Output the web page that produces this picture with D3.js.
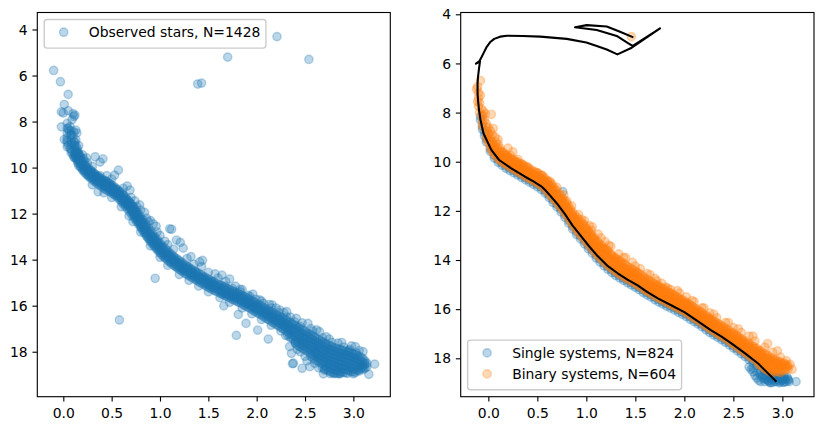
<!DOCTYPE html>
<html lang="en">
<head>
<meta charset="UTF-8">
<title>Observed stars vs single / binary systems</title>
<script src="https://d3js.org/d3.v7.min.js"></script>
<style>
  body { margin: 0; background: #fff; }
  svg text { font-family: "DejaVu Sans", sans-serif; font-size: 13.9px; fill: #000; }
</style>
</head>
<body>
<svg id="chart" width="822" height="431"></svg>
<script>
// tick values shared by both panels
const xTicks = [0, 0.5, 1, 1.5, 2, 2.5, 3];
const yTicks = [4, 6, 8, 10, 12, 14, 16, 18];

const legendLeft = ["Observed stars, N=1428"];
const legendRight = ["Single systems, N=824", "Binary systems, N=604"];

// left panel: observed stars [colour, magnitude]
const observedStars = [
  [-0.10,5.78],[-0.03,6.27],[0.05,6.82],[1.39,6.37],[1.43,6.33],[1.70,5.20],[2.21,4.31],[2.54,5.30],
  [0.01,7.26],[-0.02,7.58],[0.00,7.63],[0.05,7.53],[0.10,7.66],[0.11,7.78],[0.09,7.92],[0.12,7.72],
  [-0.02,8.23],[0.04,8.08],[0.05,8.30],[0.07,8.22],[0.11,8.45],[0.13,8.37],[0.08,8.55],[0.10,8.62],[0.06,8.40],[0.14,8.50],
  [0.01,8.78],[0.04,8.82],[0.11,8.88],[0.13,8.80],[0.05,9.02],[0.07,9.17],[0.09,8.95],[0.12,9.02],[0.14,9.12],[0.16,9.05],
  [0.09,9.30],[0.12,9.36],[0.15,9.26],[0.10,9.45],[0.13,9.52],[0.16,9.40],[0.18,9.55],[0.14,9.62],[0.17,9.70],[0.12,9.58],
  [0.20,9.45],[0.15,9.80],[0.19,9.85],[0.22,9.72],[0.24,9.58],[0.13,9.42],[0.17,9.48],[0.14,9.33],[0.11,9.55],[0.16,9.62],[0.21,9.62],
  [0.33,9.53],[0.38,9.76],[0.41,9.62],[0.57,10.11],[0.53,10.33],[0.36,11.05],[0.66,10.80],[0.69,10.98],
  [0.18,9.95],[0.20,10.10],[0.21,9.90],[0.22,10.15],[0.24,10.00],[0.25,10.30],[0.26,10.12],[0.27,10.22],[0.28,10.40],[0.29,10.18],
  [0.30,10.30],[0.31,10.45],[0.32,10.25],[0.33,10.38],[0.34,10.55],[0.35,10.40],[0.36,10.62],[0.37,10.48],[0.38,10.35],[0.39,10.58],
  [0.40,10.70],[0.41,10.55],[0.42,10.80],[0.43,10.65],[0.44,10.75],[0.45,10.60],[0.46,10.88],[0.47,10.78],[0.48,10.70],[0.49,10.95],
  [0.50,10.85],[0.51,11.05],[0.52,10.90],[0.53,11.00],[0.54,11.15],[0.55,10.95],[0.56,11.10],[0.57,11.25],[0.58,11.05],[0.59,11.20],
  [0.60,11.30],[0.61,11.45],[0.62,11.20],[0.63,11.40],[0.64,11.55],[0.65,11.35],[0.66,11.60],[0.67,11.45],[0.68,11.70],[0.69,11.55],
  [0.70,11.80],[0.70,11.62],[0.71,11.90],[0.72,11.70],[0.73,12.00],[0.73,11.80],[0.74,12.10],[0.75,11.90],[0.75,12.20],[0.76,12.00],
  [0.77,12.30],[0.77,12.10],[0.78,12.40],[0.79,12.20],[0.80,12.50],[0.80,12.28],[0.81,12.60],[0.82,12.35],[0.83,12.70],[0.83,12.50],
  [0.84,12.80],[0.85,12.60],[0.86,12.90],[0.86,12.70],[0.87,13.00],[0.88,12.80],[0.89,13.10],[0.90,12.90],[0.91,13.20],[0.92,13.00],
  [0.93,13.30],[0.94,13.10],[0.95,13.40],[0.96,13.20],[0.97,13.50],[0.98,13.30],[0.99,13.60],[1.00,13.42],[1.01,13.70],[1.02,13.55],
  [0.79,11.62],[0.84,11.95],[0.93,12.45],[0.96,12.55],[1.10,12.66],[1.12,12.68],[0.90,12.30],[0.76,11.70],
  [1.05,13.90],[1.07,13.80],[1.09,13.75],[1.11,14.10],[1.13,14.00],[1.15,13.95],[1.17,14.30],[1.19,14.20],[1.21,14.15],[1.24,14.45],
  [1.26,14.38],[1.29,14.35],[1.32,14.65],[1.34,14.58],[1.37,14.55],[1.40,14.85],[1.42,14.78],[1.45,14.80],[1.48,15.05],[1.50,14.98],
  [1.53,14.95],[1.56,15.22],[1.58,15.15],
  [1.17,13.15],[1.21,13.25],[1.24,13.50],[1.32,13.87],[1.41,14.10],[1.44,14.03],[1.43,14.30],[1.57,14.62],[1.64,14.67],[1.72,14.84],
  [1.62,15.35],[1.65,15.45],[1.69,15.50],[1.73,15.55],[1.77,15.62],[1.81,15.70],[1.85,15.78],[1.89,15.85],[1.93,15.95],[1.97,16.05],
  [2.01,16.15],[2.05,16.22],[2.09,16.32],[2.13,16.42],[2.17,16.52],[2.21,16.62],[2.25,16.72],[2.29,16.85],[2.33,16.95],[2.37,17.05],
  [1.67,15.15],[1.75,15.25],[1.83,15.40],[1.91,15.55],[1.99,15.72],[2.07,15.90],[2.15,16.10],[2.23,16.30],[2.31,16.50],[2.39,16.70],
  [1.66,16.01],[1.81,16.38],[1.89,16.77],[1.79,17.29],[2.01,17.06],[2.12,17.45],[1.83,15.29],[1.93,15.60],[2.03,15.75],[2.16,15.97],
  [2.24,16.19],[2.31,16.26],[2.41,16.55],[2.53,16.77],[2.65,17.13],[2.72,17.35],[2.84,17.63],[3.02,17.78],[3.10,18.00],
  [2.45,16.90],[2.58,17.10],[2.68,17.40],[2.78,17.60],[2.90,17.80],[2.96,17.90],[2.95,17.95],[3.03,18.05],
  [2.34,17.78],[2.36,18.07],[2.38,18.50],[2.47,18.72],[2.55,18.65],[2.69,18.96],[2.86,18.94],[3.00,18.96],[3.16,18.98],[3.22,18.54],
  [3.09,18.58],[2.40,17.60],[2.42,17.90],[2.45,18.00],[2.50,18.20],[2.52,18.40],[2.60,18.50],[2.64,18.70],[2.70,18.80],[2.76,18.95],
  [2.80,18.95],[0.95,14.81],[0.58,16.62],[2.37,18.52],[3.12,18.50],[3.10,18.70],[3.05,18.80]
];
// loose stars on both sides of the band
const observedFringe = [
  [0.25,9.80],[0.30,9.95],[0.45,10.35],[0.50,10.50],[0.62,10.90],[0.70,11.30],[0.74,11.45],[0.80,11.85],[0.86,12.20],[0.88,12.35],
  [0.97,12.80],[1.00,12.95],[1.05,13.20],[1.08,13.35],[1.14,13.55],[1.28,13.95],[1.35,14.20],[1.50,14.55],[1.60,14.80],[1.68,14.95],
  [1.78,15.15],[1.85,15.30],[1.96,15.50],[2.05,15.80],[2.13,15.95],[2.20,16.10],[2.28,16.30],[2.35,16.50],[2.47,16.75],[2.56,17.00],
  [2.62,17.05],[2.75,17.45],[2.88,17.60],[2.98,17.75],[3.06,17.95],
  [0.30,10.75],[0.42,11.10],[0.50,11.30],[0.60,11.70],[0.68,12.10],[0.72,12.35],[0.80,12.80],[0.90,13.40],[1.00,13.90],[1.08,14.25],
  [1.20,14.65],[1.30,14.90],[1.40,15.15],[1.50,15.40],[1.62,15.65],[1.72,15.85],[1.85,16.10],[1.95,16.35],[2.05,16.60],[2.15,16.85],
  [2.25,17.10],[2.30,17.30]
];

// the dense part of the observed main sequence, column by column: [colour, [magnitudes]]
const observedColumns = [
  [0.14,[9.30,9.42,9.55,9.68]],[0.18,[9.62,9.74,9.86,9.98]],[0.22,[9.88,10.00,10.10,10.22]],[0.26,[10.04,10.15,10.27,10.38]],
  [0.30,[10.18,10.30,10.40,10.52]],[0.34,[10.33,10.45,10.56,10.66]],[0.38,[10.44,10.55,10.66,10.78]],[0.42,[10.55,10.67,10.78,10.90]],
  [0.46,[10.66,10.77,10.88,11.00]],[0.50,[10.75,10.87,10.98,11.10]],[0.54,[10.88,11.00,11.10,11.22]],[0.58,[11.02,11.14,11.26,11.38]],
  [0.62,[11.18,11.32,11.44,11.58]],[0.66,[11.38,11.52,11.64,11.78]],[0.70,[11.56,11.70,11.84,12.00]],[0.74,[11.80,11.94,12.08,12.24]],
  [0.78,[12.02,12.18,12.32,12.48]],[0.82,[12.26,12.42,12.56,12.72]],[0.86,[12.52,12.68,12.82,12.98]],[0.90,[12.75,12.90,13.05,13.20]],
  [0.94,[12.98,13.12,13.26,13.42]],[0.98,[13.18,13.32,13.46,13.62]],[1.02,[13.38,13.50,13.64,13.80]],[1.06,[13.55,13.68,13.82,13.95]],
  [1.10,[13.70,13.84,13.96,14.10]],[1.14,[13.86,13.98,14.10,14.24]],[1.18,[13.98,14.12,14.24,14.36]],[1.22,[14.10,14.24,14.36,14.48]],
  [1.26,[14.24,14.36,14.48,14.60]],[1.30,[14.34,14.46,14.58,14.70]],[1.34,[14.45,14.57,14.68,14.80]],[1.38,[14.55,14.67,14.78,14.90]],
  [1.42,[14.65,14.77,14.88,15.00]],[1.46,[14.75,14.87,14.98,15.10]],[1.50,[14.85,14.97,15.08,15.20]],[1.54,[14.94,15.06,15.17,15.29]],
  [1.58,[15.02,15.14,15.25,15.37]],[1.62,[15.10,15.22,15.33,15.45]],[1.66,[15.18,15.30,15.42,15.54]],[1.70,[15.26,15.38,15.50,15.62]],
  [1.74,[15.34,15.46,15.58,15.70]],[1.78,[15.42,15.54,15.66,15.78]],[1.82,[15.50,15.62,15.74,15.86]],[1.86,[15.58,15.70,15.83,15.95]],
  [1.90,[15.66,15.79,15.91,16.04]],[1.94,[15.76,15.89,16.01,16.14]],[1.98,[15.86,15.99,16.11,16.24]],[2.02,[15.96,16.09,16.21,16.34]],
  [2.06,[16.05,16.18,16.31,16.44]],[2.10,[16.15,16.28,16.41,16.55]],[2.14,[16.25,16.38,16.51,16.65]],[2.18,[16.34,16.48,16.62,16.76]],
  [2.22,[16.44,16.58,16.72,16.86]],[2.26,[16.52,16.67,16.82,16.97]],[2.30,[16.62,16.78,16.93,17.08]],[2.34,[16.72,16.88,17.04,17.20,17.36]],
  [2.38,[16.82,16.98,17.14,17.30,17.46]],[2.42,[16.92,17.08,17.24,17.40,17.56,17.72]],[2.46,[17.02,17.18,17.34,17.50,17.66,17.82]],
  [2.50,[17.12,17.28,17.44,17.60,17.76,17.92]],[2.54,[17.22,17.38,17.54,17.70,17.86,18.02]],[2.58,[17.32,17.48,17.64,17.80,17.96,18.12,18.28]],
  [2.62,[17.42,17.58,17.74,17.90,18.06,18.22,18.38]],[2.66,[17.52,17.68,17.84,18.00,18.16,18.32,18.48]],
  [2.70,[17.62,17.78,17.94,18.10,18.26,18.42,18.58,18.74]],[2.74,[17.70,17.86,18.02,18.18,18.34,18.50,18.66,18.82]],
  [2.78,[17.78,17.94,18.10,18.26,18.42,18.58,18.74,18.90]],[2.82,[17.85,18.00,18.16,18.32,18.48,18.64,18.80,18.94]],
  [2.86,[17.90,18.06,18.22,18.38,18.54,18.70,18.86,18.96]],[2.90,[17.96,18.12,18.28,18.44,18.60,18.76,18.90]],
  [2.94,[18.00,18.16,18.32,18.48,18.64,18.80,18.94]],[2.98,[18.06,18.22,18.38,18.54,18.70,18.86]],
  [3.02,[18.12,18.28,18.44,18.60,18.76,18.90]],[3.06,[18.20,18.36,18.52,18.68,18.84]],[3.10,[18.30,18.46,18.62,18.78]],[3.14,[18.50,18.66]]
];
// in-between columns of the same band
const observedColumnsB = [
  [0.04,[8.30,8.50,8.70,8.90,9.10]],[0.08,[8.40,8.60,8.80,9.00,9.20,9.35]],[0.12,[8.90,9.05,9.20,9.35,9.50]],
  [0.16,[9.42,9.55,9.68,9.80,9.92]],[0.20,[9.72,9.85,9.97,10.10]],[0.24,[9.94,10.06,10.18,10.30]],[0.28,[10.10,10.22,10.33,10.45]],
  [0.32,[10.26,10.38,10.49,10.60]],[0.36,[10.38,10.50,10.60,10.72]],[0.40,[10.50,10.61,10.72,10.84]],[0.44,[10.60,10.72,10.83,10.95]],
  [0.48,[10.70,10.82,10.93,11.05]],[0.52,[10.82,10.93,11.04,11.16]],[0.56,[10.95,11.07,11.18,11.30]],[0.60,[11.10,11.23,11.35,11.48]],
  [0.64,[11.28,11.42,11.54,11.68]],[0.68,[11.47,11.61,11.74,11.89]],[0.72,[11.68,11.82,11.96,12.12]],[0.76,[11.91,12.06,12.20,12.36]],
  [0.80,[12.14,12.30,12.44,12.60]],[0.84,[12.39,12.55,12.69,12.85]],[0.88,[12.63,12.79,12.93,13.09]],[0.92,[12.86,13.01,13.15,13.31]],
  [0.96,[13.08,13.22,13.36,13.52]],[1.00,[13.28,13.41,13.55,13.71]],[1.04,[13.46,13.59,13.73,13.88]],[1.08,[13.62,13.76,13.89,14.03]],
  [1.12,[13.78,13.91,14.03,14.17]],[1.16,[13.92,14.05,14.17,14.30]],[1.20,[14.04,14.18,14.30,14.42]],[1.24,[14.17,14.30,14.42,14.54]],
  [1.28,[14.29,14.41,14.53,14.65]],[1.32,[14.40,14.52,14.63,14.75]],[1.36,[14.50,14.62,14.73,14.85]],[1.40,[14.60,14.72,14.83,14.95]],
  [1.44,[14.70,14.82,14.93,15.05]],[1.48,[14.80,14.92,15.03,15.15]],[1.52,[14.90,15.01,15.12,15.24]],[1.56,[14.98,15.10,15.21,15.33]],
  [1.60,[15.06,15.18,15.29,15.41]],[1.64,[15.14,15.26,15.38,15.50]],[1.68,[15.22,15.34,15.46,15.58]],[1.72,[15.30,15.42,15.54,15.66]],
  [1.76,[15.38,15.50,15.62,15.74]],[1.80,[15.46,15.58,15.70,15.82]],[1.84,[15.54,15.66,15.78,15.90]],[1.88,[15.62,15.75,15.87,16.00]],
  [1.92,[15.71,15.84,15.96,16.09]],[1.96,[15.81,15.94,16.06,16.19]],[2.00,[15.91,16.04,16.16,16.29]],[2.04,[16.00,16.13,16.26,16.39]],
  [2.08,[16.10,16.23,16.36,16.50]],[2.12,[16.20,16.33,16.46,16.60]],[2.16,[16.30,16.43,16.57,16.71]],[2.20,[16.39,16.53,16.67,16.81]],
  [2.24,[16.48,16.62,16.77,16.92]],[2.28,[16.57,16.72,16.87,17.02]],[2.32,[16.67,16.83,16.98,17.14,17.28]],
  [2.36,[16.77,16.93,17.09,17.25,17.41]],[2.40,[16.87,17.03,17.19,17.35,17.51,17.64]],[2.44,[16.97,17.13,17.29,17.45,17.61,17.77]],
  [2.48,[17.07,17.23,17.39,17.55,17.71,17.87]],[2.52,[17.17,17.33,17.49,17.65,17.81,17.97]],
  [2.56,[17.27,17.43,17.59,17.75,17.91,18.07,18.20]],[2.60,[17.37,17.53,17.69,17.85,18.01,18.17,18.33]],
  [2.64,[17.47,17.63,17.79,17.95,18.11,18.27,18.43]],[2.68,[17.57,17.73,17.89,18.05,18.21,18.37,18.53,18.68]],
  [2.72,[17.66,17.82,17.98,18.14,18.30,18.46,18.62,18.78]],[2.76,[17.74,17.90,18.06,18.22,18.38,18.54,18.70,18.86]],
  [2.80,[17.82,17.97,18.13,18.29,18.45,18.61,18.77,18.92]],[2.84,[17.88,18.03,18.19,18.35,18.51,18.67,18.83,18.95]],
  [2.88,[17.93,18.09,18.25,18.41,18.57,18.73,18.88]],[2.92,[17.98,18.14,18.30,18.46,18.62,18.78,18.92]],
  [2.96,[18.03,18.19,18.35,18.51,18.67,18.83]],[3.00,[18.09,18.25,18.41,18.57,18.73,18.88]],
  [3.04,[18.16,18.32,18.48,18.64,18.80]],[3.08,[18.25,18.41,18.57,18.73]],[3.12,[18.40,18.56,18.72]]
];

// right panel: model isochrone, from the lower main sequence to the giant branch
const isochrone = [
  [2.94,18.95],[2.85,18.60],[2.75,18.20],[2.62,17.80],[2.48,17.39],[2.38,17.12],[2.27,16.85],[2.14,16.50],[2.00,16.12],
  [1.87,15.85],[1.73,15.56],[1.62,15.30],[1.52,15.02],[1.42,14.80],[1.32,14.54],[1.22,14.25],[1.12,13.86],[1.03,13.45],
  [0.95,13.05],[0.86,12.60],[0.78,12.12],[0.70,11.70],[0.64,11.42],[0.58,11.15],[0.54,11.00],[0.46,10.80],[0.37,10.60],
  [0.23,10.26],[0.11,9.93],[0.03,9.52],[-0.05,8.84],[-0.08,8.30],[-0.095,7.90],[-0.105,7.50],[-0.11,7.22],[-0.11,6.80],
  [-0.105,6.54],[-0.095,6.20],[-0.09,6.06],[-0.085,5.92],[-0.126,6.01],[-0.09,5.90],[-0.07,5.75],[-0.05,5.59],[-0.02,5.35],
  [0.017,5.14],[0.06,5.00],[0.12,4.91],[0.19,4.87],[0.35,4.88],[0.53,4.91],[0.80,5.00],[1.00,5.15],[1.106,5.29],[1.208,5.43],
  [1.317,5.63],[1.463,5.36],[1.752,4.57],[1.474,5.29],[1.429,5.18],[1.31,4.88],[1.106,4.64],[0.885,4.53],[1.004,4.44],
  [1.208,4.50],[1.344,4.71],[1.48,4.94]
];

// single systems sit on (or just under) the isochrone
const singleColumns = [
  [-0.08,[8.15,8.30]],[-0.06,[8.55,8.68]],[-0.04,[8.80,8.95]],[-0.02,[9.08,9.20]],[0.02,[9.47,9.58]],[0.06,[9.74,9.85]],
  [0.10,[9.92,10.02]],[0.14,[10.05,10.15]],[0.18,[10.17,10.27]],[0.22,[10.26,10.36]],[0.26,[10.35,10.45]],[0.30,[10.44,10.54]],
  [0.34,[10.54,10.64]],[0.38,[10.64,10.74]],[0.42,[10.73,10.83]],[0.46,[10.82,10.92]],[0.50,[10.92,11.02]],[0.54,[11.03,11.13]],
  [0.58,[11.18,11.28]],[0.62,[11.36,11.46]],[0.66,[11.55,11.66]],[0.70,[11.73,11.84]],[0.74,[11.93,12.04]],[0.78,[12.15,12.26]],
  [0.82,[12.38,12.50]],[0.86,[12.63,12.74]],[0.90,[12.85,12.96]],[0.94,[13.03,13.14]],[0.98,[13.23,13.34]],[1.02,[13.43,13.54]],
  [1.06,[13.61,13.72]],[1.10,[13.81,13.92]],[1.14,[13.97,14.08]],[1.18,[14.13,14.24]],[1.22,[14.28,14.38]],[1.26,[14.41,14.51]],
  [1.30,[14.53,14.63]],[1.34,[14.63,14.73]],[1.38,[14.73,14.83]],[1.42,[14.83,14.93]],[1.46,[14.92,15.02]],[1.50,[15.01,15.11]],
  [1.54,[15.11,15.21]],[1.58,[15.22,15.32]],[1.62,[15.33,15.43]],[1.66,[15.41,15.51]],[1.70,[15.52,15.62]],[1.74,[15.61,15.71]],
  [1.78,[15.69,15.79]],[1.82,[15.78,15.88]],[1.86,[15.86,15.96]],[1.90,[15.94,16.04]],[1.94,[16.03,16.13]],[1.98,[16.11,16.21]],
  [2.02,[16.20,16.30]],[2.06,[16.31,16.41]],[2.10,[16.41,16.51]],[2.14,[16.51,16.61]],[2.18,[16.62,16.72]],[2.22,[16.74,16.84]],
  [2.26,[16.85,16.95]],[2.30,[16.95,17.05]],[2.34,[17.05,17.15]],[2.38,[17.15,17.25]],[2.42,[17.25,17.35]],[2.46,[17.36,17.46]],
  [2.50,[17.48,17.58]],[2.54,[17.60,17.70]],[2.58,[17.72,17.82]],[2.62,[17.83,17.93]],[2.66,[17.96,18.06]],[2.70,[18.08,18.18,18.40]],
  [2.74,[18.20,18.30,18.55]],[2.78,[18.34,18.50,18.70]],[2.82,[18.50,18.65,18.85]],[2.86,[18.62,18.78,18.92]],[2.90,[18.72,18.86,18.98]],
  [2.94,[18.80,18.95]],[2.98,[18.82,18.96]],[3.02,[18.85,18.97]],[3.06,[18.90]]
];
const singleExtra = [
  [2.72,18.70],[2.76,18.90],[2.80,18.80],[2.82,18.95],[2.86,18.90],[2.88,19.00],[2.90,18.75],[2.92,18.95],[2.95,18.85],[2.97,19.00],
  [3.00,18.90],[3.02,18.75],[3.04,18.95],[3.06,18.85],[2.84,18.55],[2.98,18.70],[3.14,18.95],[2.70,18.55],[2.66,18.35],[0.76,11.22],
  [2.74,18.80],[2.78,18.95],[2.81,18.70],[2.84,18.85],[2.87,18.98],[2.89,18.80],[2.91,18.88],[2.93,18.78],[2.96,18.92],[2.99,18.85],
  [3.01,18.98],[3.03,18.85],[3.05,18.78],[3.07,18.95],[2.88,18.68],[2.94,18.70],[3.00,18.80],[2.77,18.62],[2.83,18.75],[2.68,18.45]
];

// binary systems: brighter than the isochrone by up to ~0.6 mag
const binarySystems = [
  [-0.11,6.95],[-0.08,6.70],[-0.10,7.40],[-0.09,7.60],[-0.10,7.75],[-0.07,7.85],[-0.05,7.95],[-0.06,8.10],[-0.03,8.05],[0.03,8.07],
  [-0.04,8.30],[-0.02,8.45],[0.00,8.60],[0.02,8.75],[0.04,8.90],[0.05,8.65],[0.07,9.00],[0.08,9.20],[0.10,9.30],[0.12,9.45],
  [0.15,9.60],[0.25,9.60],[0.23,9.75],[0.20,9.85],[0.18,9.70],[0.27,10.00],[0.30,10.10],[0.33,10.15],[0.36,10.30],[0.38,10.45],
  [0.42,10.40],[0.45,10.55],[0.48,10.60],[0.50,10.70],[0.53,10.80],[0.56,10.75],[0.60,10.78],[0.58,10.90],[0.62,11.00],[0.65,11.10],
  [0.67,11.20],[0.70,11.35],[0.72,11.50],[0.75,11.55],[0.78,11.70],[0.80,11.85],[0.81,11.96],[0.84,12.05],[0.86,12.20],[0.88,12.30],
  [0.90,12.45],[0.93,12.60],[0.97,12.54],[1.00,12.70],[1.05,12.79],[1.02,12.90],[1.05,13.05],[1.08,13.15],[1.10,13.30],[1.13,13.45],
  [1.15,13.50],[1.18,13.55],[1.22,13.60],[1.20,13.75],[1.25,13.80],[1.29,13.94],[1.30,14.05],[1.35,14.15],[1.38,14.30],[1.42,14.40],
  [1.45,14.50],[1.51,14.48],[1.48,14.60],[1.52,14.70],[1.56,14.80],[1.60,14.90],[1.64,15.00],[1.68,15.10],[1.73,15.02],[1.75,15.20],
  [1.81,15.10],[1.80,15.30],[1.85,15.40],[1.88,15.71],[1.90,15.50],[1.95,15.60],[2.03,15.85],[2.00,15.75],[2.05,15.95],[2.10,16.05],
  [2.15,16.15],[2.20,16.30],[2.25,16.40],[2.27,16.66],[2.30,16.55],[2.35,16.70],[2.37,17.00],[2.40,16.85],[2.45,17.00],[2.50,17.10],
  [2.55,17.20],[2.58,17.28],[2.60,17.35],[2.65,17.45],[2.70,17.60],[2.75,17.70],[2.78,17.80],[2.80,17.90],[2.85,18.00],[2.90,18.10],
  [2.95,18.20],[3.00,18.30],[3.02,18.20],[3.05,18.35],[3.10,18.45],[1.46,4.91],
  [-0.12,7.05],[-0.10,7.20],[-0.11,7.55],[-0.08,7.30],[-0.09,8.00],
  [0.10,9.10],[0.20,9.45],[0.30,9.90],[0.40,10.20],[0.55,10.55],[0.63,10.80],[0.70,11.05],[0.77,11.35],[0.85,11.80],[0.92,12.15],
  [0.98,12.40],[1.06,12.65],[1.12,12.95],[1.19,13.25],[1.23,13.40],[1.33,13.75],[1.40,13.90],[1.47,14.10],[1.55,14.35],[1.62,14.55],
  [1.70,14.75],[1.77,14.95],[1.83,15.15],[1.93,15.25],[2.02,15.50],[2.10,15.70],[2.18,15.95],[2.26,16.15],[2.33,16.35],[2.42,16.55],
  [2.50,16.75],[2.58,16.95],[2.66,17.10],[2.72,17.30],[2.82,17.55],[2.90,17.75],[2.98,17.95],[3.04,18.10],[3.08,18.25],
  [0.35,10.10],[0.50,10.45],[0.65,10.90],[0.80,11.60],[0.95,12.35],[1.03,12.60],[1.15,13.10],[1.25,13.45],[1.38,13.90],[1.50,14.25],
  [1.65,14.60],[1.72,14.85],[1.86,15.20],[1.95,15.35],[2.08,15.65],[2.20,15.95],[2.30,16.20],[2.45,16.55],[2.55,16.80],[2.70,17.10],
  [2.85,17.40],[2.95,17.70]
];
const binaryColumns = [
  [-0.06,[8.15,8.30,8.45,8.58]],[-0.02,[8.60,8.75,8.90,9.05]],[0.02,[9.00,9.15,9.30,9.45]],[0.06,[9.30,9.43,9.56,9.70]],
  [0.10,[9.48,9.60,9.73,9.86]],[0.14,[9.62,9.74,9.86,9.98]],[0.18,[9.74,9.86,9.98,10.10]],[0.22,[9.84,9.96,10.08,10.20]],
  [0.26,[9.94,10.06,10.18,10.30]],[0.30,[10.02,10.14,10.26,10.38]],[0.34,[10.10,10.23,10.36,10.48]],[0.38,[10.20,10.33,10.46,10.58]],
  [0.42,[10.28,10.42,10.55,10.68]],[0.46,[10.38,10.51,10.64,10.77]],[0.50,[10.46,10.60,10.73,10.86]],[0.54,[10.55,10.69,10.83,10.96]],
  [0.58,[10.68,10.83,10.97,11.10]],[0.62,[10.84,10.99,11.14,11.29]],[0.66,[11.02,11.18,11.34,11.48]],[0.70,[11.18,11.35,11.52,11.66]],
  [0.74,[11.38,11.55,11.72,11.86]],[0.78,[11.60,11.77,11.94,12.08]],[0.82,[11.82,12.00,12.17,12.31]],[0.86,[12.05,12.23,12.40,12.56]],
  [0.90,[12.26,12.44,12.62,12.78]],[0.94,[12.44,12.62,12.80,12.96]],[0.98,[12.62,12.80,12.98,13.16]],[1.02,[12.82,13.00,13.18,13.36]],
  [1.06,[13.00,13.18,13.36,13.54]],[1.10,[13.20,13.38,13.56,13.74]],[1.14,[13.36,13.54,13.72,13.90]],[1.18,[13.52,13.70,13.88,14.06]],
  [1.22,[13.66,13.85,14.03,14.21]],[1.26,[13.80,13.98,14.16,14.34]],[1.30,[13.92,14.10,14.28,14.46]],[1.34,[14.04,14.21,14.38,14.56]],
  [1.38,[14.14,14.31,14.48,14.66]],[1.42,[14.26,14.42,14.58,14.76]],[1.46,[14.36,14.52,14.68,14.85]],[1.50,[14.46,14.62,14.78,14.94]],
  [1.54,[14.56,14.72,14.88,15.04]],[1.58,[14.68,14.84,15.00,15.15]],[1.62,[14.80,14.95,15.11,15.26]],[1.66,[14.88,15.04,15.20,15.34]],
  [1.70,[14.98,15.14,15.30,15.45]],[1.74,[15.08,15.24,15.40,15.54]],[1.78,[15.16,15.32,15.48,15.62]],[1.82,[15.26,15.42,15.58,15.71]],
  [1.86,[15.34,15.50,15.66,15.79]],[1.90,[15.44,15.59,15.74,15.87]],[1.94,[15.54,15.68,15.83,15.96]],[1.98,[15.62,15.77,15.91,16.04]],
  [2.02,[15.72,15.86,16.00,16.13]],[2.06,[15.84,15.98,16.11,16.24]],[2.10,[15.94,16.08,16.21,16.34]],[2.14,[16.04,16.18,16.31,16.44]],
  [2.18,[16.14,16.28,16.42,16.55]],[2.22,[16.26,16.40,16.54,16.67]],[2.26,[16.38,16.52,16.65,16.78]],[2.30,[16.48,16.62,16.75,16.88]],
  [2.34,[16.58,16.72,16.85,16.98]],[2.38,[16.68,16.82,16.95,17.08]],[2.42,[16.78,16.92,17.05,17.18]],[2.46,[16.88,17.02,17.16,17.29]],
  [2.50,[16.98,17.13,17.27,17.41]],[2.54,[17.08,17.24,17.38,17.52]],[2.58,[17.20,17.35,17.50,17.64]],[2.62,[17.30,17.46,17.61,17.75]],
  [2.66,[17.40,17.56,17.72,17.87]],[2.70,[17.50,17.66,17.82,17.98]],[2.74,[17.60,17.76,17.92,18.08]],[2.78,[17.70,17.86,18.02,18.18,18.30]],
  [2.82,[17.80,17.96,18.12,18.28,18.42]],[2.86,[17.90,18.06,18.22,18.38,18.52]],[2.90,[18.00,18.14,18.30,18.46,18.60]],
  [2.94,[18.08,18.22,18.38,18.52]],[2.98,[18.16,18.30,18.44,18.58]],[3.02,[18.24,18.38,18.50]],[3.06,[18.30,18.44]]
];
// in-between columns of the binary sequence
const binaryColumnsB = [
  [0.00,[8.85,8.98,9.10,9.22]],[0.04,[9.20,9.33,9.46,9.58]],[0.08,[9.42,9.55,9.68,9.80]],[0.12,[9.58,9.70,9.83,9.95]],
  [0.16,[9.70,9.82,9.95,10.07]],[0.20,[9.80,9.93,10.05,10.18]],[0.24,[9.90,10.02,10.14,10.27]],[0.28,[9.98,10.11,10.24,10.36]],
  [0.32,[10.07,10.20,10.33,10.45]],[0.36,[10.16,10.29,10.42,10.55]],[0.40,[10.26,10.39,10.52,10.65]],[0.44,[10.34,10.48,10.61,10.74]],
  [0.48,[10.42,10.56,10.70,10.83]],[0.52,[10.52,10.66,10.80,10.93]],[0.56,[10.62,10.77,10.91,11.05]],[0.60,[10.78,10.93,11.08,11.22]],
  [0.64,[10.95,11.11,11.26,11.40]],[0.68,[11.12,11.29,11.45,11.59]],[0.72,[11.30,11.47,11.63,11.78]],[0.76,[11.50,11.67,11.84,11.99]],
  [0.80,[11.70,11.88,12.05,12.21]],[0.84,[11.94,12.12,12.30,12.46]],[0.88,[12.16,12.35,12.53,12.69]],[0.92,[12.35,12.54,12.72,12.89]],
  [0.96,[12.54,12.73,12.91,13.08]],[1.00,[12.74,12.93,13.11,13.28]],[1.04,[12.92,13.11,13.30,13.47]],[1.08,[13.10,13.30,13.49,13.66]],
  [1.12,[13.28,13.48,13.67,13.84]],[1.16,[13.44,13.64,13.83,14.00]],[1.20,[13.60,13.80,13.99,14.16]],[1.24,[13.74,13.93,14.12,14.29]],
  [1.28,[13.87,14.06,14.25,14.42]],[1.32,[13.99,14.18,14.36,14.53]],[1.36,[14.10,14.28,14.46,14.63]],[1.40,[14.20,14.38,14.56,14.73]],
  [1.44,[14.31,14.48,14.66,14.83]],[1.48,[14.41,14.58,14.75,14.92]],[1.52,[14.51,14.67,14.84,15.01]],[1.56,[14.61,14.77,14.94,15.11]],
  [1.60,[14.74,14.90,15.06,15.23]],[1.64,[14.84,15.00,15.16,15.32]],[1.68,[14.94,15.10,15.26,15.42]],[1.72,[15.04,15.20,15.35,15.51]],
  [1.76,[15.13,15.29,15.44,15.60]],[1.80,[15.22,15.38,15.53,15.68]],[1.84,[15.32,15.47,15.62,15.77]],[1.88,[15.40,15.55,15.70,15.85]],
  [1.92,[15.49,15.64,15.78,15.93]],[1.96,[15.59,15.73,15.87,16.02]],[2.00,[15.67,15.82,15.96,16.10]],[2.04,[15.78,15.92,16.06,16.20]],
  [2.08,[15.89,16.03,16.17,16.31]],[2.12,[15.99,16.13,16.27,16.41]],[2.16,[16.09,16.23,16.37,16.51]],[2.20,[16.21,16.35,16.49,16.63]],
  [2.24,[16.32,16.46,16.60,16.74]],[2.28,[16.43,16.57,16.71,16.85]],[2.32,[16.53,16.67,16.81,16.95]],[2.36,[16.63,16.77,16.91,17.05]],
  [2.40,[16.73,16.87,17.01,17.15]],[2.44,[16.83,16.97,17.11,17.25]],[2.48,[16.94,17.08,17.23,17.37]],[2.52,[17.05,17.20,17.35,17.49]],
  [2.56,[17.16,17.31,17.46,17.61]],[2.60,[17.27,17.43,17.58,17.73]],[2.64,[17.37,17.53,17.69,17.84]],[2.68,[17.48,17.64,17.80,17.96]],
  [2.72,[17.58,17.74,17.90,18.06]],[2.76,[17.68,17.84,18.00,18.16,18.26]],[2.80,[17.78,17.94,18.10,18.24,18.36]],
  [2.84,[17.88,18.03,18.18,18.33,18.47]],[2.88,[17.98,18.12,18.27,18.42,18.56]],[2.92,[18.06,18.20,18.35,18.50]],
  [2.96,[18.14,18.28,18.42,18.55]],[3.00,[18.22,18.36,18.50]],[3.04,[18.28,18.42]]
];

const unfold = cols => cols.flatMap(([c, mags]) => mags.map(m => [c, m]));

const blue = "#1f77b4", orange = "#ff7f0e";
const pt = 100 / 72;               // figure was rendered at 100 dpi
const markerR = 3 * pt, edgeW = 1 * pt;

const svg = d3.select("#chart");

function makePanel(box, xDomain, yDomain, id) {
  const [x0, y0, x1, y1] = box;
  const x = d3.scaleLinear().domain(xDomain).range([x0, x1]);
  const y = d3.scaleLinear().domain(yDomain).range([y0, y1]); // magnitudes: bright at top
  svg.append("clipPath").attr("id", id)
    .append("rect").attr("x", x0).attr("y", y0).attr("width", x1 - x0).attr("height", y1 - y0);
  const plot = svg.append("g").attr("clip-path", `url(#${id})`);
  return { box, x, y, plot };
}

function scatter(ax, data, color) {
  ax.plot.append("g").selectAll("circle")
    .data(data)
    .join("circle")
    .attr("cx", d => ax.x(d[0]))
    .attr("cy", d => ax.y(d[1]))
    .attr("r", markerR)
    .attr("fill", color).attr("fill-opacity", 0.3)
    .attr("stroke", color).attr("stroke-opacity", 0.3)
    .attr("stroke-width", edgeW);
}

function drawAxes(ax) {
  const [x0, y0, x1, y1] = ax.box;
  const gx = svg.append("g").attr("transform", `translate(0,${y1})`)
    .call(d3.axisBottom(ax.x).tickValues(xTicks).tickFormat(d3.format(".1f"))
      .tickSize(3.5 * pt).tickPadding(3.5 * pt));
  const gy = svg.append("g").attr("transform", `translate(${x0},0)`)
    .call(d3.axisLeft(ax.y).tickValues(yTicks).tickFormat(d3.format("d"))
      .tickSize(3.5 * pt).tickPadding(3.5 * pt));
  [gx, gy].forEach(g => {
    g.attr("font-family", null).attr("font-size", null);
    g.select(".domain").remove();
    g.selectAll(".tick line").attr("stroke", "#000").attr("stroke-width", 0.8 * pt);
  });
  gx.selectAll(".tick text").attr("dy", "12px");
  gy.selectAll(".tick text").attr("dy", "4.6px");
  svg.append("rect")
    .attr("x", x0).attr("y", y0).attr("width", x1 - x0).attr("height", y1 - y0)
    .attr("fill", "none").attr("stroke", "#000").attr("stroke-width", 0.8 * pt);
}

function legend(ax, labels, colors, where) {
  const fs = 13.9, pad = 0.4 * fs, handle = 2 * fs, textPad = 0.8 * fs, rowH = 21;
  const [x0, y0, x1, y1] = ax.box;
  const g = svg.append("g");
  const box = g.append("rect");
  const texts = labels.map(t => g.append("text").text(t));
  const w = d3.max(texts, t => t.node().getComputedTextLength()) + 2 * pad + handle + textPad;
  const h = labels.length * rowH + 2 * pad - 3.5;
  const bx = x0 + 0.5 * fs;
  const by = where === "upper" ? y0 + 0.5 * fs : y1 - 0.5 * fs - h;
  box.attr("x", bx).attr("y", by).attr("width", w).attr("height", h)
    .attr("rx", 0.2 * fs).attr("fill", "#fff").attr("fill-opacity", 0.8)
    .attr("stroke", "#cccccc").attr("stroke-width", 1 * pt);
  texts.forEach((t, i) => {
    const cy = by + pad + 7.2 + i * rowH;
    t.attr("x", bx + pad + handle + textPad).attr("y", cy + 5);
    g.append("circle").attr("cx", bx + pad + handle / 2).attr("cy", cy).attr("r", markerR)
      .attr("fill", colors[i]).attr("fill-opacity", 0.3)
      .attr("stroke", colors[i]).attr("stroke-opacity", 0.3).attr("stroke-width", edgeW);
  });
}

// left panel
const left = makePanel([37.3, 12.5, 390.3, 396.7], [-0.269, 3.382], [3.262, 19.954], "clipL");
scatter(left, observedStars.concat(observedFringe, unfold(observedColumns), unfold(observedColumnsB)), blue);
drawAxes(left);
legend(left, legendLeft, [blue], "upper");

// right panel
const right = makePanel([460.7, 12.5, 814, 396.7], [-0.282, 3.323], [3.927, 19.563], "clipR");
scatter(right, unfold(singleColumns).concat(singleExtra), blue);
scatter(right, binarySystems.concat(unfold(binaryColumns), unfold(binaryColumnsB)), orange);
right.plot.append("path")
  .datum(isochrone)
  .attr("fill", "none")
  .attr("stroke", "#000")
  .attr("stroke-width", 1.5 * pt)
  .attr("stroke-linejoin", "round")
  .attr("d", d3.line().x(d => right.x(d[0])).y(d => right.y(d[1])));
drawAxes(right);
legend(right, legendRight, [blue, orange], "lower");
</script>
</body>
</html>
